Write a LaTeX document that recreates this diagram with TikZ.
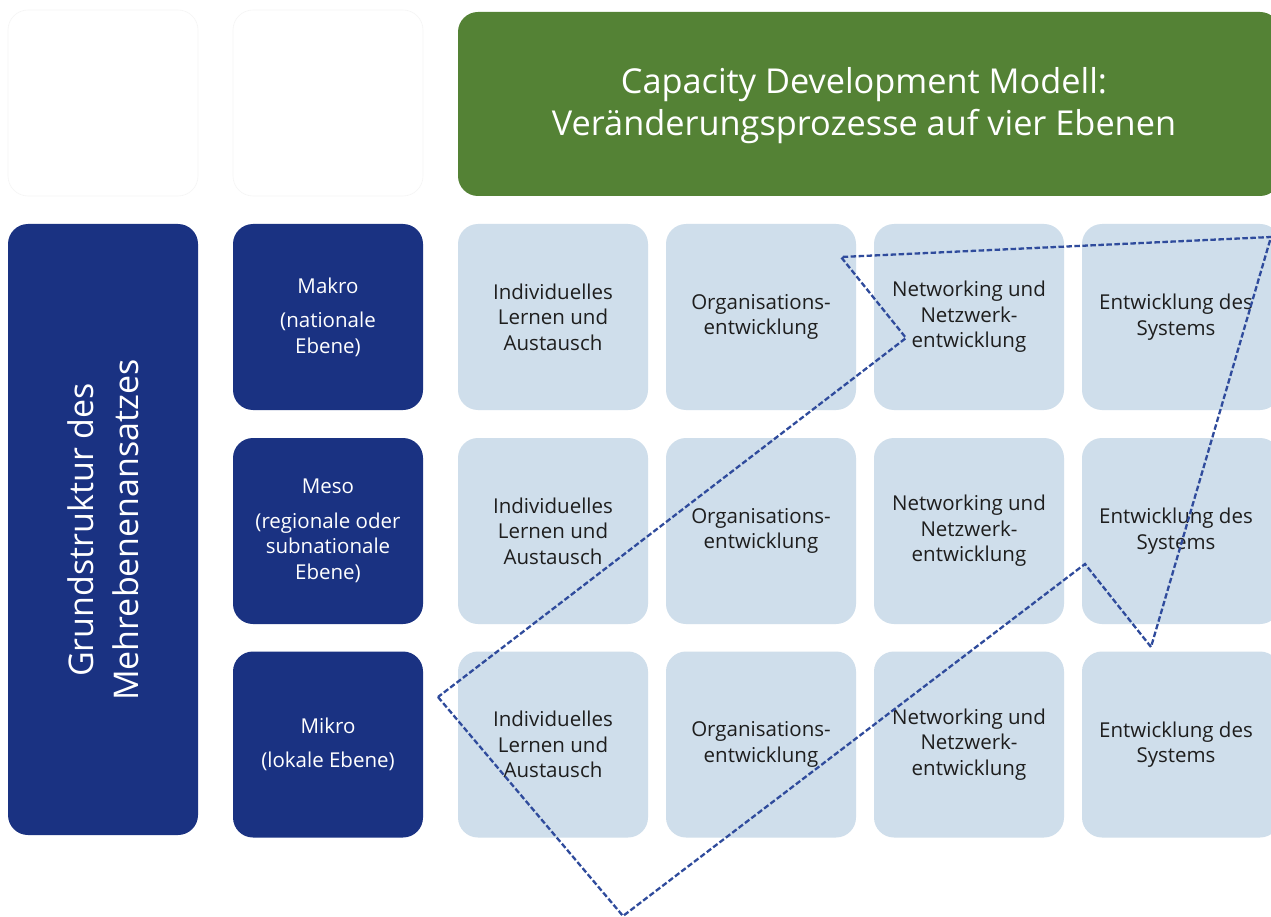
\documentclass[tikz,border=0pt]{standalone}
\usepackage{fontspec}
\setmainfont{Open Sans}
\definecolor{darkblue}{HTML}{1A3282}
\definecolor{titlegreen}{HTML}{548235}
\definecolor{cellblue}{HTML}{CFDEEB}
\definecolor{dashblue}{HTML}{2F4B9C}
\definecolor{celltext}{HTML}{1E1E1E}
\begin{document}
\begin{tikzpicture}[x=1pt,y=-1pt,
  box/.style={rectangle,rounded corners=20pt,inner sep=0pt,minimum width=190pt,minimum height=186pt,align=center},
  cell/.style={box,fill=cellblue,text=celltext,font=\fontsize{20.5}{25.5}\selectfont},
  level/.style={box,fill=darkblue,text=white,font=\fontsize{20.5}{25.5}\selectfont},
  blank/.style={box,draw=black!4,line width=0.6pt,fill=white},
  dashline/.style={draw=dashblue,line width=2.3pt,dash pattern=on 5.5pt off 2.5pt}]
\useasboundingbox (0,0) rectangle (1271,917);
\fill[white] (0,0) rectangle (1271,917);
% top blank boxes
\node[blank] (b1) at (103,103) {};
\node[blank] (b2) at (328,103) {};
% title
\node[box,fill=titlegreen,text=white,minimum width=822pt,minimum height=184pt] (title) at (869,104) {};
\node[text=white,font=\fontsize{34.3}{42}\selectfont,align=center] (titletext) at (864,106) {Capacity Development Modell:\\Veränderungsprozesse auf vier Ebenen};
% left column
\node[box,fill=darkblue,minimum height=611pt] (grund) at (103,529.5) {};
\node[rotate=90,text=white,align=center,font=\fontsize{34}{45}\selectfont] (grundtext) at (103,530) {Grundstruktur des\\Mehrebenenansatzes};
% level boxes
\node[level] (makro) at (328,317) {Makro\\[9pt](nationale\\Ebene)};
\node[level] (meso) at (328,531) {Meso\\[9pt](regionale oder\\subnationale\\Ebene)};
\node[level] (mikro) at (328,744.5) {Mikro\\[9pt](lokale Ebene)};
% cells
\foreach \r/\y in {1/317,2/531,3/744.5}{
  \node[cell] (c\r1) at (553,\y) {Individuelles\\Lernen und\\Austausch};
  \node[cell] (c\r2) at (761,\y) {Organisations-\\entwicklung};
  \node[cell] (c\r3) at (969,\y) {Networking und\\Netzwerk-\\entwicklung};
  \node[cell,minimum width=198pt] (c\r4) at (1181,\y) {};
  \node[text=celltext,font=\fontsize{20.5}{25.5}\selectfont,align=center] (t\r4) at (1176,\y) {Entwicklung des\\Systems};
}
% dashed zigzag
\coordinate (p1) at (438,697);
\coordinate (p2) at (623,916);
\coordinate (p3) at (1085,564);
\coordinate (p4) at (1151,647);
\coordinate (p5) at (1271,237);
\coordinate (p6) at (841,257);
\coordinate (p7) at (906,338);
\draw[dashline] (p1) -- (p2) -- (p3) -- (p4) -- (p5) -- (p6) -- (p7) -- cycle;
\end{tikzpicture}
\end{document}
